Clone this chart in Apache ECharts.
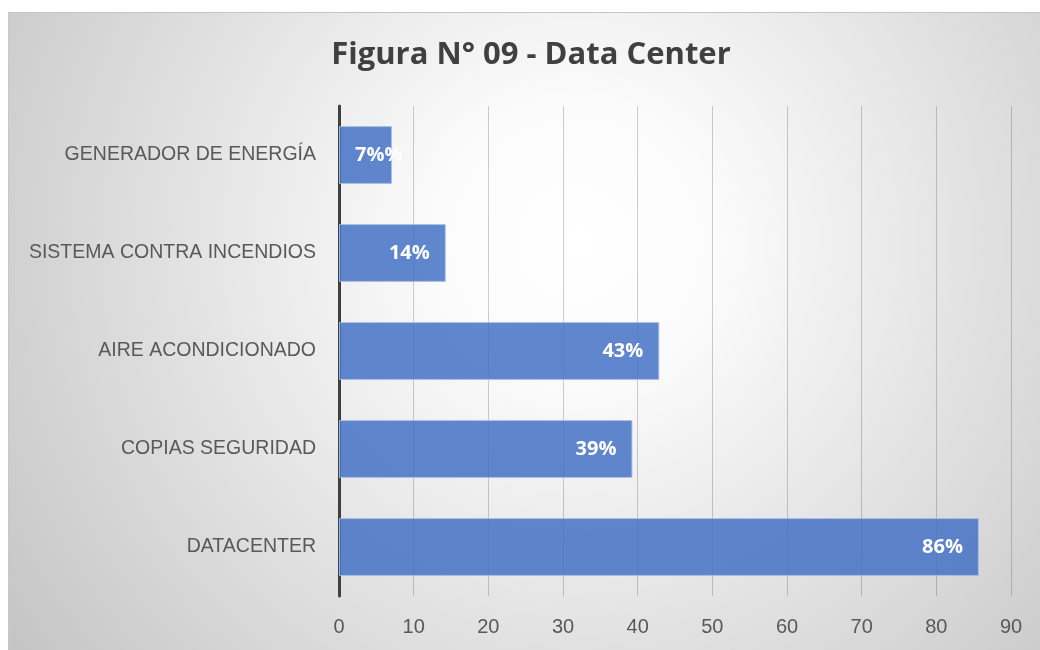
<!DOCTYPE html>
<html>
<head>
<meta charset="utf-8">
<script src="https://cdn.jsdelivr.net/npm/echarts@6/dist/echarts.min.js"></script>
<style>
  html, body { margin: 0; padding: 0; background: #fff; }
  #charts {
    position: absolute; left: 8px; top: 12px;
    width: 1031px; height: 637px;
    border-top: 1px solid #c4c4c4; border-left: 1px solid #c8c8c8;
  }
</style>
</head>
<body>
<div id="charts"></div>
<script>
// datos del gráfico
const categories = ['GENERADOR DE ENERGÍA', 'SISTEMA CONTRA INCENDIOS', 'AIRE ACONDICIONADO', 'COPIAS SEGURIDAD', 'DATACENTER']
const values = [7.1, 14.3, 42.9, 39.3, 85.7]
const labels = ['7%%', '14%', '43%', '39%', '86%']

let myChart = echarts.init(document.getElementById('charts'))

let option = {
    backgroundColor: {
        type: 'radial', x: 0.55, y: 0.36, r: 1.1,
        colorStops: [
            { offset: 0, color: '#ffffff' },
            { offset: 0.2, color: '#fbfbfb' },
            { offset: 1, color: '#c4c4c4' }
        ]
    },
    title: {
        text: 'Figura N° 09 - Data Center',
        left: 517, top: 22, textAlign: 'center',
        textStyle: { fontFamily: 'Open Sans', fontWeight: 'bold', fontSize: 31, color: '#404040' }
    },
    grid: { left: 330, right: 29, top: 93, height: 490 },
    xAxis: {
        type: 'value', min: 0, max: 90, interval: 10,
        axisLine: { show: false },
        axisTick: { show: false },
        axisLabel: { margin: 21, fontFamily: 'Liberation Sans', fontSize: 20, color: '#595959' },
        splitLine: { lineStyle: { color: 'rgba(0,0,0,0.19)', width: 1 } }
    },
    yAxis: {
        type: 'category', data: categories, inverse: true,
        axisLine: { lineStyle: { color: '#404040', width: 3 } },
        axisTick: { show: false },
        axisLabel: { margin: 23, fontFamily: 'Liberation Sans', fontSize: 19.5, color: '#595959' }
    },
    series: [{
        type: 'bar',
        data: values.map((v, i) => i === 0
            ? { value: v, label: { position: 'insideLeft', distance: 16 } }
            : v),
        barWidth: '59%',
        itemStyle: {
            color: 'rgba(68,114,196,0.85)',
            borderColor: 'rgba(170,192,232,0.9)',
            borderWidth: 1
        },
        label: {
            show: true,
            position: 'insideRight',
            distance: 16,
            formatter: p => labels[p.dataIndex],
            fontFamily: 'Open Sans', fontWeight: 'bold', fontSize: 20, color: '#ffffff'
        }
    }]
}
myChart.setOption(option)
</script>
</body>
</html>
